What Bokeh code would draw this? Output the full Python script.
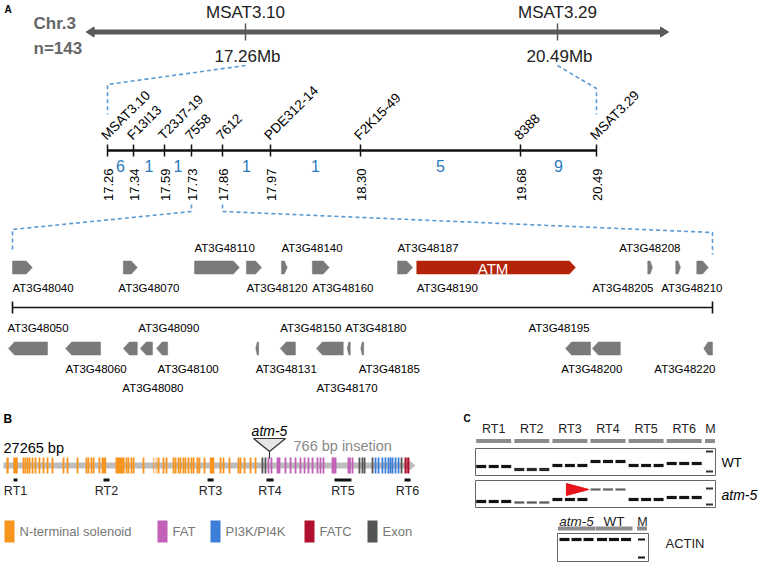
import math
from bokeh.plotting import figure
from bokeh.models import Range1d
from bokeh.embed import file_html
from bokeh.resources import INLINE
from bokeh.core.properties import value

# ======================= DATA =======================
# Panel A - chromosome / fine mapping
chrom_name = "Chr.3"
population = "n=143"
chrom_view_mb = [15.61, 21.64]
flank_names = ["MSAT3.10", "MSAT3.29"]
flank_mb = [17.26, 20.49]

marker_names = ["MSAT3.10", "F13I13", "T23J7-19", "7558", "7612",
                "PDE312-14", "F2K15-49", "8388", "MSAT3.29"]
marker_mb = [17.26, 17.34, 17.59, 17.73, 17.86, 17.97, 18.30, 19.68, 20.49]
interval_recombinants = [6, 1, 1, 0, 1, 1, 5, 9]

region_kb = [0, 120]
fwd_names = ["AT3G48040", "AT3G48070", "AT3G48110", "AT3G48120", "AT3G48140",
             "AT3G48160", "AT3G48187", "AT3G48190", "AT3G48205", "AT3G48208",
             "AT3G48210"]
fwd_start_kb = [0.0, 19.0, 31.2, 40.1, 46.1, 51.4, 66.0, 69.3, 108.9, 113.7, 117.3]
fwd_end_kb = [3.4, 21.4, 38.9, 42.7, 47.1, 54.3, 68.6, 96.5, 109.7, 114.5, 119.3]
rev_names = ["AT3G48050", "AT3G48060", "AT3G48080", "AT3G48090", "AT3G48100",
             "AT3G48131", "AT3G48150", "AT3G48170", "AT3G48180", "AT3G48185",
             "AT3G48195", "AT3G48200", "AT3G48220"]
rev_start_kb = [-0.7, 9.1, 19.0, 21.9, 24.7, 41.7, 45.9, 52.1, 57.4, 59.7, 94.8, 99.4, 118.5]
rev_end_kb = [6.0, 15.1, 21.4, 24.0, 26.6, 42.2, 48.5, 56.7, 57.9, 60.2, 99.1, 104.2, 120.0]
target_gene = "AT3G48190"
target_symbol = "ATM"

# Panel B - ATM gene structure (kb from start)
atm_length_bp = 27265
insertion_bp = 766
insertion_kb = 17.69
allele = "atm-5"
nterm_kb = [0.27, 0.80, 1.33, 1.46, 1.60, 1.73, 1.93, 2.13, 2.39, 2.66, 2.93, 3.26,
            3.99, 4.26, 4.92, 5.52, 5.65, 5.85, 5.99, 6.38, 6.68, 7.75, 8.18, 8.31,
            8.51, 8.65, 9.31, 9.98, 10.17, 10.31, 10.64, 10.84, 11.31, 11.44, 11.64,
            11.77, 11.97, 12.10, 12.30, 12.50, 12.64, 12.90, 13.03, 13.37, 13.87,
            14.43, 14.63, 15.03, 15.63, 15.76, 16.03, 16.43, 16.76]
nterm_wide = {0.27: 0.15, 0.80: 0.30, 6.68: 0.30, 7.75: 0.60, 13.87: 0.30}
nterm_faint = [10.17, 9.98]
fat_kb = [17.62, 17.82, 18.29, 18.75, 19.09, 19.42, 19.75, 20.02, 20.28, 20.55,
          20.88, 21.08, 21.28, 21.88, 21.98, 22.08, 22.94, 23.04, 23.21]
fat_wide = {18.29: 0.25}
pi3k_kb = [24.74, 24.94, 25.20, 25.40, 25.60, 25.74, 25.87, 26.07, 26.27]
fatc_kb = [26.74, 26.92]
exon_kb = [17.22, 17.42, 23.67, 23.87, 24.01, 24.54, 26.47]
rt_names = ["RT1", "RT2", "RT3", "RT4", "RT5", "RT6"]
rt_start_kb = [0.67, 6.65, 13.57, 17.49, 22.01, 26.67]
rt_end_kb = [0.93, 7.05, 13.97, 17.96, 23.14, 27.07]
legend_names = ["N-terminal solenoid", "FAT", "PI3K/PI4K", "FATC", "Exon"]
legend_colors = ["#F7941D", "#C25FB6", "#3B7DD8", "#B0112E", "#555555"]

# Panel C - RT-PCR gels (band migration from top of gel box)
wt_band = [18, 21, 17, 13, 17, 15]
wt_band_int = [1.0, 0.85, 1.0, 1.0, 1.0, 1.0]
atm5_band = [21, 22, 19, 9, 19, 17]
atm5_band_int = [1.0, 0.55, 1.0, 0.45, 1.0, 1.0]
ladder_wt = [3, 23]
ladder_atm5 = [8, 24]
actin_groups = ["atm-5", "WT"]
actin_band = 6
ladder_actin = [6, 24]
gel_rows = ["WT", "atm-5"]

# ======================= LAYOUT =======================
W, H = 758, 563
p = figure(width=W, height=H, output_backend="svg", toolbar_location=None,
           x_range=Range1d(0, W), y_range=Range1d(H, 0),
           min_border=0, outline_line_color=None)
p.axis.visible = False
p.grid.visible = False
p.background_fill_color = "white"
p.border_fill_color = "white"

FONT = value("Liberation Sans")

def T(x, y, s, size, color="#000000", align="center", baseline="middle",
      angle=0.0, style="normal"):
    p.text(x=[x], y=[y], text=[s], text_font=FONT, text_font_size=size,
           text_color=color, text_align=align, text_baseline=baseline,
           angle=angle, text_font_style=style)

# ---- panel letters
T(4, 9, "A", "10px", align="left", style="bold")
T(3, 418, "B", "12px", align="left", style="bold")
T(463, 418, "C", "10px", align="left", style="bold")

# ---- chromosome overview
CHR_Y = 31.5
chr_px = (245, 557)
def chr_x(mb):
    return chr_px[0] + (mb - flank_mb[0]) * (chr_px[1] - chr_px[0]) / (flank_mb[1] - flank_mb[0])

cx0, cx1 = chr_x(chrom_view_mb[0]), chr_x(chrom_view_mb[1])
CHR_C = "#5a5a5a"
p.line([cx0 + 7, cx1 - 7], [CHR_Y, CHR_Y], line_width=5, line_color=CHR_C)
p.patches([[cx0, cx0 + 8, cx0 + 8], [cx1, cx1 - 8, cx1 - 8]],
          [[CHR_Y, CHR_Y - 5, CHR_Y + 5], [CHR_Y, CHR_Y - 5, CHR_Y + 5]],
          fill_color=CHR_C, line_color=CHR_C)
T(33, 22.5, chrom_name, "17px", color="#666666", align="left", style="bold")
T(33, 47.5, population, "17px", color="#666666", align="left", style="bold")
for nm, mb in zip(flank_names, flank_mb):
    x = chr_x(mb)
    p.line([x, x], [23, 40], line_width=1.5, line_color=CHR_C)
    T(x, 11.5, nm, "17px", color="#222222")
    T(x + 2, 56, f"{mb:.2f}Mb", "17px", color="#222222")

# ---- marker map
marker_axis_px = [107, 133, 164, 191, 222, 270, 360, 520, 596]
MK_Y = 150
p.line([marker_axis_px[0], marker_axis_px[-1]], [MK_Y, MK_Y], line_width=2.5, line_color="#111111")
for nm, mb, x in zip(marker_names, marker_mb, marker_axis_px):
    p.line([x, x], [MK_Y - 6, MK_Y + 6], line_width=1.5, line_color="#111111")
    T(x - 4, 137, nm, "13.5px", align="left", baseline="alphabetic", angle=math.pi / 4)
    T(x + 1, 168, f"{mb:.2f}", "13px", align="right", baseline="middle", angle=math.pi / 2)
BLUE = "#2B7BC0"
for i, n in enumerate(interval_recombinants):
    if n > 0:
        T((marker_axis_px[i] + marker_axis_px[i + 1]) / 2, 165, str(n), "16px", color=BLUE)

DASH = "#5B9BD5"
lx = chr_x(flank_mb[0]); rx = chr_x(flank_mb[1])
p.line([lx, marker_axis_px[0], marker_axis_px[0]], [65, 84, 114],
       line_color=DASH, line_width=1.6, line_dash="4 3")
p.line([rx, marker_axis_px[-1], marker_axis_px[-1]], [65, 88, 114],
       line_color=DASH, line_width=1.6, line_dash="4 3")

# ---- gene region
RG_X0, RG_X1 = 12, 712
def kbx(kb):
    return RG_X0 + (kb - region_kb[0]) * (RG_X1 - RG_X0) / (region_kb[1] - region_kb[0])

i0 = marker_names.index("7558"); i1 = marker_names.index("7612")
p.line([marker_axis_px[i0], marker_axis_px[i0], RG_X0, RG_X0], [204, 211, 229, 252],
       line_color=DASH, line_width=1.6, line_dash="4 3")
p.line([marker_axis_px[i1], marker_axis_px[i1], RG_X1, RG_X1], [204, 211, 232, 254],
       line_color=DASH, line_width=1.6, line_dash="4 3")

RL_Y = 307
p.line([RG_X0, RG_X1], [RL_Y, RL_Y], line_width=1.6, line_color="#111111")
for x in (RG_X0, RG_X1):
    p.line([x, x], [RL_Y - 6, RL_Y + 6], line_width=1.6, line_color="#111111")

def arrow(x0, x1, yc, d, h=6.5, head=6.0):
    w = x1 - x0
    hl = min(head, 0.5 * w)
    if d > 0:
        xs = [x0, x1 - hl, x1, x1 - hl, x0]
    else:
        xs = [x1, x0 + hl, x0, x0 + hl, x1]
    return xs, [yc - h, yc - h, yc, yc + h, yc + h]

GENE_C = "#7a7a7a"
ATM_C = "#B5220A"
FWD_Y, REV_Y = 267, 348
fwd_label_row = ["below", "below", "above", "below", "above", "below", "above", "below", "below", "above", "below"]
fwd_label_anchor = ["start"] * 8 + ["end", "end", "end"]
fwd_label_dx = [0, -5, 0, 0, 0, 0, 0, 0, 1, 0, 14]
rev_label_row = ["above", "below1", "below2", "above", "below1", "below1", "above",
                 "below2", "above", "below1", "above", "below1", "below1"]
rev_label_anchor = ["start"] * 10 + ["end", "end", "end"]
rev_label_dx = [-1, 0, -1, -2, 1, 0, 0, 0, -2, -2, -1, 2, 3]
row_y_fwd = {"above": 247.5, "below": 287.5}
row_y_rev = {"above": 327.5, "below1": 368, "below2": 387.5}

gx, gy, gc = [], [], []
for nm, s, e in zip(fwd_names, fwd_start_kb, fwd_end_kb):
    xs, ys = arrow(kbx(s), kbx(e), FWD_Y, 1)
    gx.append(xs); gy.append(ys); gc.append(ATM_C if nm == target_gene else GENE_C)
for nm, s, e in zip(rev_names, rev_start_kb, rev_end_kb):
    xs, ys = arrow(kbx(s), kbx(e), REV_Y, -1)
    gx.append(xs); gy.append(ys); gc.append(GENE_C)
p.patches(gx, gy, fill_color=gc, line_color=gc, line_width=0.5)

for nm, s, e, r, a, dx in zip(fwd_names, fwd_start_kb, fwd_end_kb, fwd_label_row, fwd_label_anchor, fwd_label_dx):
    x = kbx(s) if a == "start" else kbx(e)
    T(x + dx, row_y_fwd[r], nm, "11.5px", align="left" if a == "start" else "right")
    if nm == target_gene:
        T((kbx(s) + kbx(e) - 6) / 2, FWD_Y + 0.5, target_symbol, "15px", color="white")
for nm, s, e, r, a, dx in zip(rev_names, rev_start_kb, rev_end_kb, rev_label_row, rev_label_anchor, rev_label_dx):
    x = kbx(s) if a == "start" else kbx(e)
    T(x + dx, row_y_rev[r], nm, "11.5px", align="left" if a == "start" else "right")

# ---- panel B: gene structure
B_X0 = 3
B_SCALE = 410 / (atm_length_bp / 1000)
def bx(kb):
    return B_X0 + kb * B_SCALE
B_Y = 465
gend = bx(atm_length_bp / 1000)
p.quad(left=[B_X0], right=[gend - 3], top=[B_Y - 3], bottom=[B_Y + 3], fill_color="#BDBDBD", line_color=None)
p.patches([[gend - 4, gend + 2, gend - 4]], [[B_Y - 5, B_Y, B_Y + 5]], fill_color="#BDBDBD", line_color=None)

def stripes(kbs, color, wide=None, default=0.12, alpha=1.0):
    L, R = [], []
    for k in kbs:
        w = (wide or {}).get(k, default)
        L.append(bx(k - w / 2)); R.append(bx(k + w / 2))
    p.quad(left=L, right=R, top=[457] * len(L), bottom=[473] * len(L),
           fill_color=color, line_color=None, fill_alpha=alpha)

stripes([k for k in nterm_kb if k not in nterm_faint], legend_colors[0], nterm_wide)
stripes(nterm_faint, legend_colors[0], alpha=0.45)
stripes(fat_kb, legend_colors[1], fat_wide)
stripes(pi3k_kb, legend_colors[2])
stripes(fatc_kb, legend_colors[3], default=0.15)
stripes(exon_kb, legend_colors[4])

# RT amplicons
p.quad(left=[bx(s) for s in rt_start_kb], right=[bx(e) for e in rt_end_kb],
       top=[478] * 6, bottom=[481] * 6, fill_color="#111111", line_color=None)
for nm, s, e in zip(rt_names, rt_start_kb, rt_end_kb):
    T((bx(s) + bx(e)) / 2, 490.5, nm, "12.5px", color="#222222")

# insertion
ix = bx(insertion_kb)
p.patches([[ix - 16, ix + 16, ix]], [[438, 438, 451]], fill_color="#E6E6E6", line_color="#333333", line_width=1.2)
p.line([ix, ix], [451, 458], line_color="#333333", line_width=1.2)
T(ix, 430, allele, "14px", style="italic")
T(ix + 24, 445, f"{insertion_bp} bp insetion", "14.5px", color="#888888", align="left")
T(3, 447.5, f"{atm_length_bp} bp", "14.5px", align="left")

# legend
leg_x = [4, 157, 210, 304, 367]
for x, nm, c in zip(leg_x, legend_names, legend_colors):
    p.quad(left=[x], right=[x + 10], top=[520], bottom=[542], fill_color=c, line_color=None)
    T(x + 15, 531, nm, "13px", color="#777777", align="left")

# ---- panel C: gels
LANE0 = 480.7
LANE_STEP = 12.5
GROUP_STEP = 38.1
M_X = 709
def lane_x(g, j):
    return LANE0 + g * GROUP_STEP + j * LANE_STEP

GEL_L, GEL_R = 475, 715
for g, nm in enumerate(rt_names):
    cxg = lane_x(g, 1)
    T(cxg, 428, nm, "12.5px", color="#222222")
    p.quad(left=[cxg - 17.5], right=[cxg + 17.5], top=[438.5], bottom=[442.5], fill_color="#8C8C8C", line_color=None)
T(M_X + 1, 428, "M", "12.5px", color="#222222")
p.quad(left=[M_X - 4.5], right=[M_X + 5.5], top=[438.5], bottom=[442.5], fill_color="#8C8C8C", line_color=None)

gel_tops = [448, 480]
gel_h = 27
for top, bands, ints, ladder, lbl in zip(gel_tops, [wt_band, atm5_band], [wt_band_int, atm5_band_int],
                                          [ladder_wt, ladder_atm5], gel_rows):
    p.quad(left=[GEL_L], right=[GEL_R], top=[top], bottom=[top + gel_h],
           fill_color="white", line_color="#666666", line_width=1)
    L, R, Tp, B, C = [], [], [], [], []
    for g, (b, it) in enumerate(zip(bands, ints)):
        for j in range(3):
            x = lane_x(g, j)
            L.append(x - 5); R.append(x + 5)
            th = 3.2 if it > 0.8 else 2.2
            Tp.append(top + b - th / 2); B.append(top + b + th / 2)
            shade = int(20 + (1 - it) * 150)
            C.append("#%02x%02x%02x" % (shade, shade, shade))
    for b in ladder:
        L.append(M_X - 3.5); R.append(M_X + 3.5)
        Tp.append(top + b - 1); B.append(top + b + 1); C.append("#333333")
    p.quad(left=L, right=R, top=Tp, bottom=B, fill_color=C, line_color=None)
    T(721, top + gel_h / 2 + (0.5 if lbl == "WT" else 1), lbl, "13px" if lbl == "WT" else "14px",
      align="left", style="italic" if lbl != "WT" else "normal")

# red arrowhead marking the altered RT4 product (drawn over the RT3 lanes)
ay = gel_tops[1] + atm5_band[3]
p.patches([[lane_x(2, 1) - 3.5, lane_x(2, 1) - 3.5, lane_x(2, 2) + 6.5]],
          [[ay - 6, ay + 6, ay]], fill_color="#E8141B", line_color="#E8141B")

# ACTIN gel
A_L, A_R, A_T, A_B = 557, 648, 533, 561
A_LANE0, A_STEP, A_GSTEP, A_M = 564, 12.0, 37.5, 641
for g, nm in enumerate(actin_groups):
    cxg = A_LANE0 + g * A_GSTEP + A_STEP
    T(cxg, 521, nm, "13.5px", style="italic" if nm != "WT" else "normal", color="#222222")
    p.quad(left=[cxg - 18.5], right=[cxg + 18.5], top=[526], bottom=[530], fill_color="#8C8C8C", line_color=None)
T(A_M + 1, 521, "M", "12.5px", color="#222222")
p.quad(left=[A_M - 4.5], right=[A_M + 5.5], top=[526], bottom=[530], fill_color="#8C8C8C", line_color=None)
p.quad(left=[A_L], right=[A_R], top=[A_T], bottom=[A_B], fill_color="white", line_color="#666666", line_width=1)
L, R, Tp, B = [], [], [], []
for g in range(2):
    for j in range(3):
        x = A_LANE0 + g * A_GSTEP + j * A_STEP
        L.append(x - 5); R.append(x + 5); Tp.append(A_T + actin_band - 1.6); B.append(A_T + actin_band + 1.6)
for b in ladder_actin:
    L.append(A_M - 3.5); R.append(A_M + 3.5); Tp.append(A_T + b - 1); B.append(A_T + b + 1)
p.quad(left=L, right=R, top=Tp, bottom=B, fill_color="#111111", line_color=None)
T(665, 543, "ACTIN", "13px", align="left", color="#222222")

open("out.html", "w").write(file_html(p, INLINE))
